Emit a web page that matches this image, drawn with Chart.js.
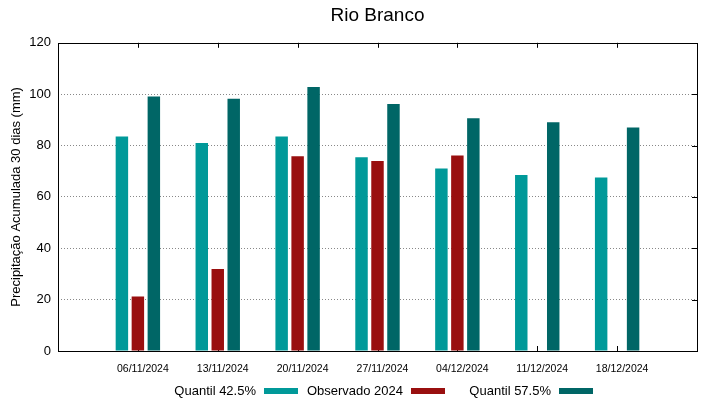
<!DOCTYPE html>
<html>
<head>
<meta charset="utf-8">
<script src="https://cdn.jsdelivr.net/npm/chart.js@4"></script>
<style>
html,body{margin:0;padding:0;background:#fff;}
#wrap{width:719px;height:399px;}
</style>
</head>
<body>
<div id="wrap"><canvas id="c" width="719" height="399"></canvas></div>
<script>
const titleText = 'Rio Branco';
const yTitle = 'Precipitação Acumulada 30 dias (mm)';
const categories = ['06/11/2024','13/11/2024','20/11/2024','27/11/2024','04/12/2024','11/12/2024','18/12/2024'];
const quantil425 = [83.5, 81.0, 83.5, 75.4, 71.1, 68.5, 67.6];
const observado2024 = [21.2, 31.9, 75.8, 74.0, 76.1, null, null];
const quantil575 = [99.1, 98.2, 102.8, 96.2, 90.6, 89.1, 87.0];
const yTicks = [0, 20, 40, 60, 80, 100, 120];
const seriesNames = ['Quantil 42.5%', 'Observado 2024', 'Quantil 57.5%'];

const FONT = "'Liberation Sans', Arial, sans-serif";
// pad one empty slot on each side, like the reference's x range
const labels = [''].concat(categories, ['']);
const pad = arr => [null].concat(arr, [null]);

const framePlugin = {
  id: 'frame',
  beforeDatasetsDraw(chart) {
    const {ctx, chartArea: a, scales} = chart;
    ctx.save();
    ctx.strokeStyle = '#000';
    ctx.lineWidth = 1;
    ctx.beginPath();
    for (let i = 1; i <= categories.length; i++) {
      const x = Math.round(scales.x.getPixelForValue(i)) + 0.5;
      ctx.moveTo(x, a.top); ctx.lineTo(x, a.top + 5);
      ctx.moveTo(x, a.bottom); ctx.lineTo(x, a.bottom - 5);
    }
    yTicks.forEach(v => {
      if (v === yTicks[0] || v === yTicks[yTicks.length - 1]) return;
      const y = Math.round(scales.y.getPixelForValue(v)) + 0.5;
      ctx.moveTo(a.right, y); ctx.lineTo(a.right - 5, y);
    });
    ctx.stroke();
    ctx.restore();
  },
  afterDatasetsDraw(chart) {
    const {ctx, chartArea: a} = chart;
    ctx.save();
    ctx.strokeStyle = '#000';
    ctx.lineWidth = 1;
    ctx.strokeRect(Math.round(a.left) + 0.5, Math.round(a.top) + 0.5,
                   Math.round(a.right - a.left), Math.round(a.bottom - a.top));
    ctx.restore();
  },
  afterDraw(chart) {
    const {ctx} = chart;
    const ds = chart.data.datasets;
    const swatchStarts = [264, 411, 559];
    const y = 391;
    ctx.save();
    ctx.font = '13px ' + FONT;
    ctx.textAlign = 'right';
    ctx.textBaseline = 'middle';
    ds.forEach((d, i) => {
      const sx = swatchStarts[i];
      ctx.fillStyle = '#000';
      ctx.fillText(d.label, sx - 8, y);
      ctx.fillStyle = d.backgroundColor;
      ctx.fillRect(sx, y - 3, 34, 6);
    });
    ctx.restore();
  }
};

new Chart(document.getElementById('c'), {
  type: 'bar',
  data: {
    labels: labels,
    datasets: [
      {label: seriesNames[0], data: pad(quantil425), backgroundColor: '#009999'},
      {label: seriesNames[1], data: pad(observado2024), backgroundColor: '#990f0f'},
      {label: seriesNames[2], data: pad(quantil575), backgroundColor: '#006666'}
    ]
  },
  options: {
    responsive: false,
    animation: false,
    devicePixelRatio: 1,
    categoryPercentage: 0.6,
    barPercentage: 0.78,
    layout: {padding: {left: 0, right: 22, top: 0, bottom: 0}},
    plugins: {
      legend: {display: false},
      tooltip: {enabled: false},
      title: {
        display: true, text: titleText, color: '#000', fullSize: false,
        font: {family: FONT, size: 19, weight: 'normal'},
        padding: {top: 4, bottom: 16}
      }
    },
    scales: {
      x: {
        type: 'category',
        offset: false,
        grid: {display: false, drawTicks: false},
        border: {display: false},
        ticks: {
          autoSkip: false, maxRotation: 0, padding: 12, labelOffset: 5,
          color: '#000', font: {family: FONT, size: 10.5}
        },
        afterFit: s => { s.height = 48; }
      },
      y: {
        min: 0, max: 120,
        afterBuildTicks: s => { s.ticks = yTicks.map(v => ({value: v})); },
        grid: {
          drawTicks: false,
          color: c => (c.tick.value === 0 || c.tick.value === 120) ? 'rgba(0,0,0,0)' : '#888',
          lineWidth: 1
        },
        border: {display: false, dash: [1, 2]},
        ticks: {padding: 7, color: '#000', font: {family: FONT, size: 13}},
        title: {
          display: true, text: yTitle, color: '#000',
          font: {family: FONT, size: 13},
          padding: {top: 9, bottom: 0}
        },
        afterFit: s => { s.width = 58; }
      }
    }
  },
  plugins: [framePlugin]
});
</script>
</body>
</html>
